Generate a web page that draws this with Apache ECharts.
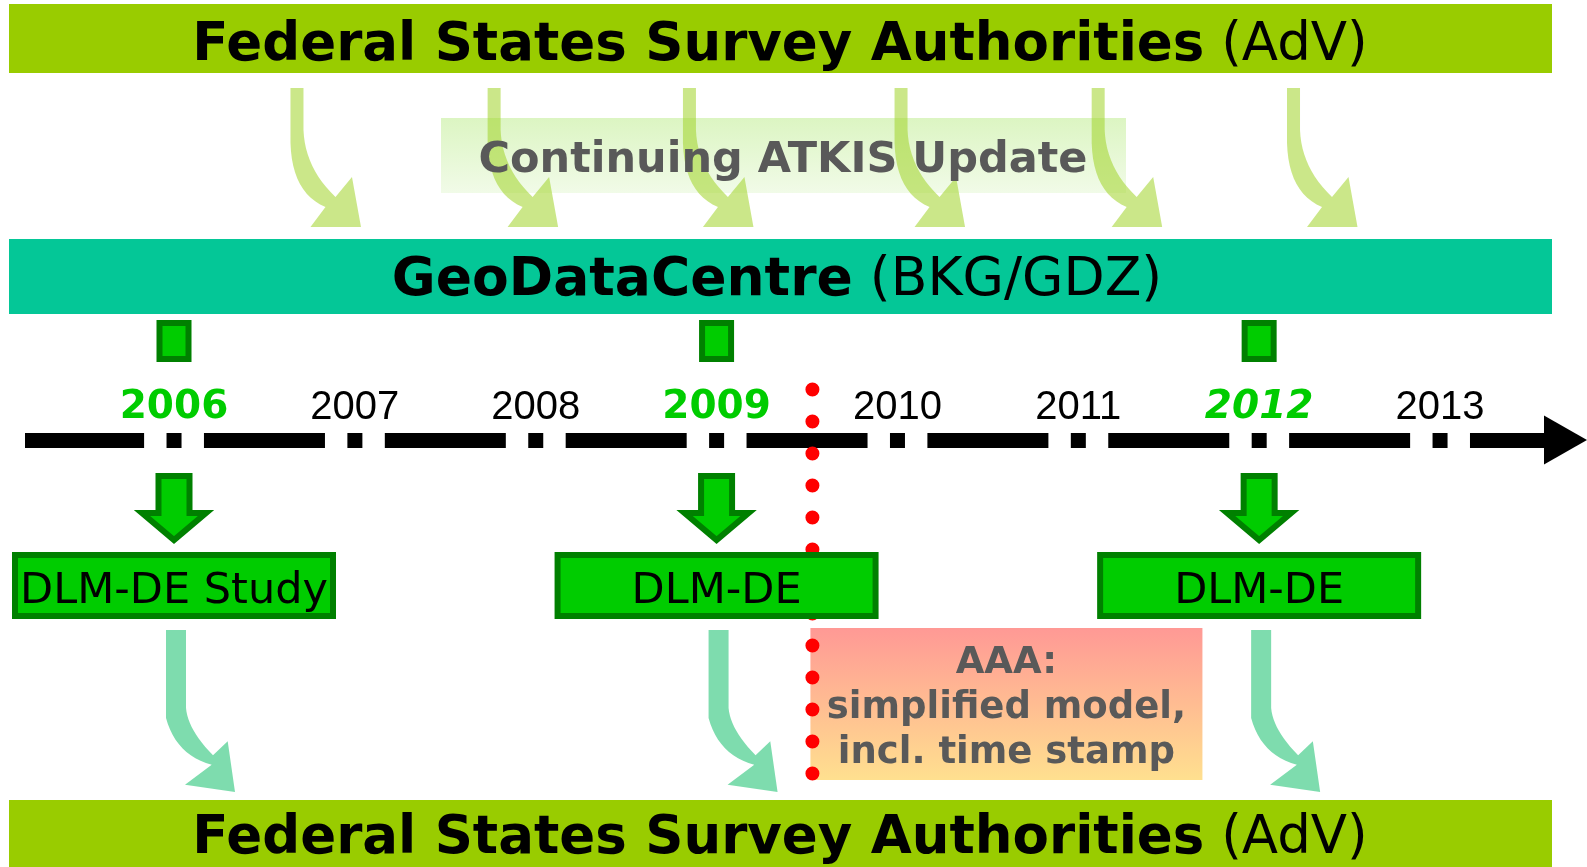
<!DOCTYPE html>
<html>
<head>
<meta charset="utf-8">
<title>ATKIS / DLM-DE timeline</title>
<script src="https://cdn.jsdelivr.net/npm/echarts@6/dist/echarts.min.js"></script>
<style>
  html, body { margin: 0; padding: 0; background: #fff; }
  #chart { width: 1587px; height: 867px; }
</style>
</head>
<body>
<div id="chart"></div>
<script>
// years on the time line (tick labels)
const years = [2006, 2007, 2008, 2009, 2010, 2011, 2012, 2013];
// DLM-DE releases
const milestoneYears = [2006, 2009, 2012];
const milestoneLabels = ["DLM-DE Study", "DLM-DE", "DLM-DE"];
const italicYears = [2012];
// yearly ATKIS update deliveries (arrows from AdV to GDZ)
const updateYears = [2006.68, 2007.77, 2008.85, 2010.02, 2011.11, 2012.19];
// switch to AAA
const aaaYear = 2009.53;
const aaaLines = ["AAA:", "simplified model,", "incl. time stamp"];
// band titles
const advTitle = ["Federal States Survey Authorities", "(AdV)"];
const gdzTitle = ["GeoDataCentre", "(BKG/GDZ)"];
const updateTitle = "Continuing ATKIS Update";

// layout
const W = 1587, H = 867;
const TL = 440; // y of the time line = top of the grid
const PX_YEAR = 1266 / 7;
const GRID_LEFT = 25, GRID_RIGHT = 43;
const xMin = 2006 - (174 - GRID_LEFT) / PX_YEAR;
const xMax = xMin + (W - GRID_LEFT - GRID_RIGHT) / PX_YEAR;

const LIME = "#99CC00";
const TEAL = "#04C797";
const GREEN = "#00CC00";
const DARK = "#008000";
const GREY = "#595959";

function quad(p0, c, p1, n) {
  let pts = [];
  for (let k = 1; k <= n; k++) {
    let t = k / n, u = 1 - t;
    pts.push([u * u * p0[0] + 2 * u * t * c[0] + t * t * p1[0],
              u * u * p0[1] + 2 * u * t * c[1] + t * t * p1[1]]);
  }
  return pts;
}

// curved arrow outlines, relative to top centre of the shaft
const topArrow = [[-6.5, 0], [-6.5, 55]]
  .concat(quad([-6.5, 55], [-5, 105], [28.5, 119], 12))
  .concat([[13.5, 139], [64, 139], [55, 89], [38.5, 109]])
  .concat(quad([38.5, 109], [8, 80], [6.5, 42], 12))
  .concat([[6.5, 0]]);
const bottomArrow = [[-10, 0], [-10, 88]]
  .concat(quad([-10, 88], [0, 125], [35.7, 134.7], 12))
  .concat([[9, 154.7], [59, 162], [51.7, 111.3], [37, 125.3]])
  .concat(quad([37, 125.3], [12, 100], [10, 78], 12))
  .concat([[10, 0]]);

function shift(pts, x, y) {
  return pts.map(p => [p[0] + x, p[1] + y]);
}

function px(api, year) { return api.coord([year, 0])[0]; }
function py(api, p) { return api.coord([xMin, p - TL])[1]; }

const titleRich = function (size) {
  return {
    b: { fontFamily: "DejaVu Sans", fontWeight: "bold", fontSize: size, fill: "#000" },
    r: { fontFamily: "DejaVu Sans", fontWeight: "normal", fontSize: size, fill: "#000" }
  };
};

let chart = echarts.init(document.getElementById("chart"), null, { renderer: "canvas" });

let option = {
  animation: false,
  backgroundColor: "#fff",
  grid: { left: GRID_LEFT, right: GRID_RIGHT, top: TL, bottom: 0, containLabel: false, outerBoundsMode: "none" },
  xAxis: {
    type: "value",
    min: xMin,
    max: xMax,
    position: "top",
    splitLine: { show: false },
    axisTick: { show: false },
    axisLine: {
      show: true,
      onZero: false,
      symbol: ["none", "triangle"],
      symbolSize: [49, 43],
      symbolOffset: [0, 21.5],
      lineStyle: { color: "#000", width: 15, cap: "butt", type: [121, 22.43, 15, 22.43], dashOffset: 1.9 }
    },
    axisLabel: {
      customValues: years,
      margin: 12,
      formatter: function (v) {
        let y = Math.round(v);
        if (italicYears.indexOf(y) >= 0) return "{gi|" + y + "}";
        if (milestoneYears.indexOf(y) >= 0) return "{g|" + y + "}";
        return "{n|" + y + "}";
      },
      rich: {
        g: { fontFamily: "DejaVu Sans", fontWeight: "bold", fontSize: 39, color: GREEN, lineHeight: 40 },
        gi: { fontFamily: "DejaVu Sans", fontWeight: "bold", fontStyle: "italic", fontSize: 39, color: GREEN, lineHeight: 40 },
        n: { fontFamily: "Liberation Sans", fontSize: 40, color: "#000", lineHeight: 40 }
      }
    }
  },
  yAxis: {
    type: "value",
    min: 0,
    max: H - TL,
    inverse: true,
    show: false,
    splitLine: { show: false }
  },
  graphic: [
    { type: "rect", z: 1, shape: { x: 9, y: 4, width: 1543, height: 69 }, style: { fill: LIME } },
    { type: "text", z: 5, x: 780, y: 46,
      style: { text: "{b|" + advTitle[0] + "}{r| " + advTitle[1] + "}", align: "center", verticalAlign: "middle", rich: titleRich(53) } },
    { type: "rect", z: 1, shape: { x: 441, y: 118, width: 685, height: 75 },
      style: { fill: new echarts.graphic.LinearGradient(0, 0, 0, 1, [
        { offset: 0, color: "#DCF5C2" }, { offset: 1, color: "#F1FBE8" }]) } },
    { type: "text", z: 10, x: 783, y: 160.5,
      style: { text: updateTitle, align: "center", verticalAlign: "middle",
        fontFamily: "DejaVu Sans", fontWeight: "bold", fontSize: 43, fill: GREY } },
    { type: "rect", z: 1, shape: { x: 9, y: 239, width: 1543, height: 75 }, style: { fill: TEAL } },
    { type: "text", z: 5, x: 777, y: 281.5,
      style: { text: "{b|" + gdzTitle[0] + "}{r| " + gdzTitle[1] + "}", align: "center", verticalAlign: "middle", rich: titleRich(53.5) } },
    { type: "rect", z: 1, shape: { x: 9, y: 800, width: 1543, height: 80 }, style: { fill: LIME } },
    { type: "text", z: 5, x: 780, y: 839.5,
      style: { text: "{b|" + advTitle[0] + "}{r| " + advTitle[1] + "}", align: "center", verticalAlign: "middle", rich: titleRich(53) } }
  ],
  series: [
    {
      // ATKIS updates from AdV to GDZ
      type: "custom",
      z: 3,
      clip: false,
      data: updateYears.map(y => [y]),
      renderItem: function (params, api) {
        let x = px(api, api.value(0));
        return {
          type: "polygon",
          shape: { points: shift(topArrow, x, py(api, 88)) },
          style: { fill: "rgba(160,212,40,0.55)" }
        };
      }
    },
    {
      // AAA box
      type: "custom",
      z: 2,
      clip: false,
      data: [[aaaYear]],
      renderItem: function (params, api) {
        let x = px(api, api.value(0));
        let top = py(api, 628), bottom = py(api, 780);
        return {
          type: "group",
          children: [
            { type: "rect", shape: { x: x - 2, y: top, width: 392, height: bottom - top },
              style: { fill: new echarts.graphic.LinearGradient(0, 0, 0, 1, [
                { offset: 0, color: "#FF9995" }, { offset: 1, color: "#FFE08F" }]) } },
            { type: "text", style: { text: aaaLines.join("\n"), x: x + 194, y: py(api, 708),
                align: "center", verticalAlign: "middle", lineHeight: 45,
                fontFamily: "DejaVu Sans", fontWeight: "bold", fontSize: 37, fill: GREY } }
          ]
        };
      }
    },
    {
      // red dotted line at the AAA switch
      type: "custom",
      z: 4,
      clip: false,
      data: [[aaaYear]],
      renderItem: function (params, api) {
        let x = px(api, api.value(0));
        return {
          type: "line",
          shape: { x1: x, y1: py(api, 389.5), x2: x, y2: py(api, 774) },
          style: { stroke: "#FF0000", lineWidth: 14, lineCap: "round", lineDash: [0.01, 31.99] }
        };
      }
    },
    {
      // DLM-DE releases
      type: "custom",
      z: 5,
      clip: false,
      data: milestoneYears.map((y, i) => [y, i]),
      renderItem: function (params, api) {
        let x = px(api, api.value(0));
        let i = api.value(1);
        let sqTop = py(api, 320), sqBot = py(api, 362);
        let aTop = py(api, 476), aHead = py(api, 513), aTip = py(api, 540);
        let bTop = py(api, 552), bBot = py(api, 619);
        return {
          type: "group",
          children: [
            { type: "rect", shape: { x: x - 14.5, y: sqTop + 3, width: 29, height: sqBot - sqTop - 6 },
              style: { fill: GREEN, stroke: DARK, lineWidth: 6 } },
            { type: "polygon",
              shape: { points: [[x - 15.5, aTop], [x + 15.5, aTop], [x + 15.5, aHead], [x + 32, aHead],
                [x, aTip], [x - 32, aHead], [x - 15.5, aHead]] },
              style: { fill: GREEN, stroke: DARK, lineWidth: 6, lineJoin: "miter" } },
            { type: "rect", shape: { x: x - 159, y: bTop + 3, width: 318, height: bBot - bTop - 6 },
              style: { fill: GREEN, stroke: DARK, lineWidth: 6 } },
            { type: "text", style: { text: milestoneLabels[i], x: x, y: (bTop + bBot) / 2 + 6,
                align: "center", verticalAlign: "middle",
                fontFamily: "DejaVu Sans", fontSize: 43, fill: "#000" } },
            { type: "polygon", shape: { points: shift(bottomArrow, x + 2, py(api, 630)) },
              style: { fill: "rgba(40,196,120,0.6)" } }
          ]
        };
      }
    }
  ]
};

chart.setOption(option);
</script>
</body>
</html>
